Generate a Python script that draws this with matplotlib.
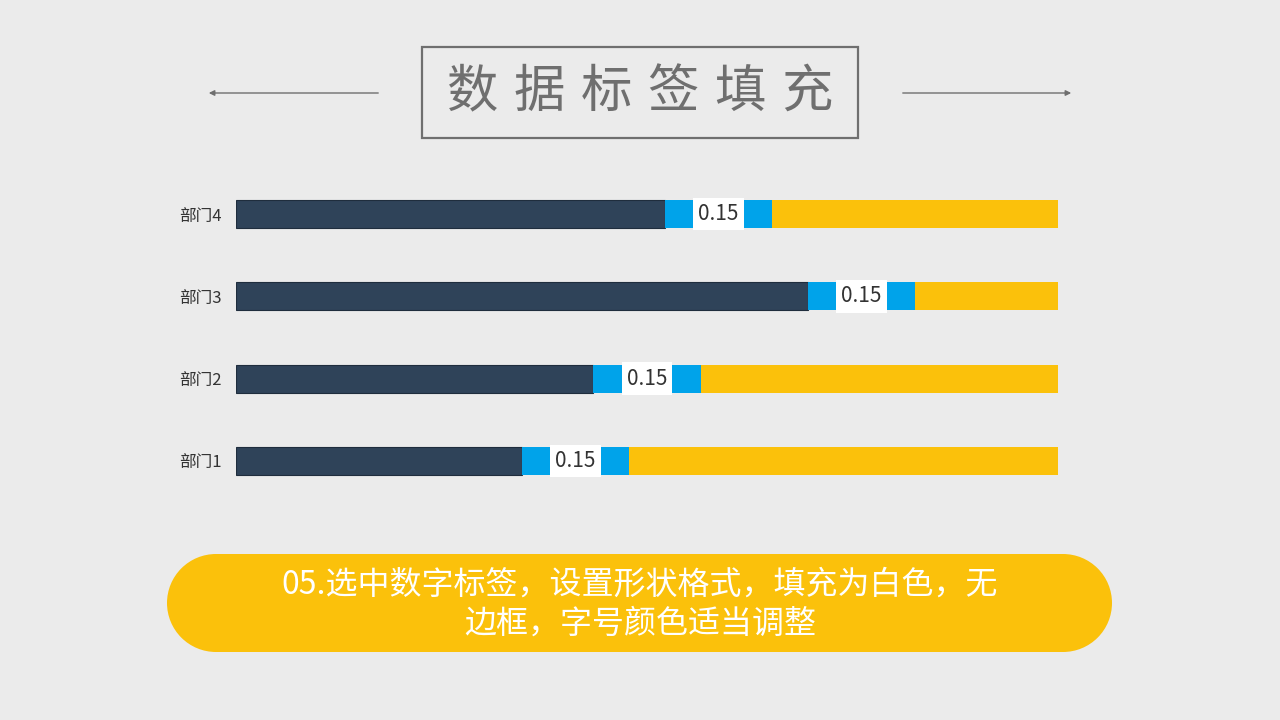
import matplotlib
matplotlib.use('Agg')
import matplotlib.pyplot as plt
from matplotlib.patches import Circle, Rectangle

plt.rcParams['font.family'] = ['Noto Sans CJK SC', 'DejaVu Sans']

categories = ['部门1', '部门2', '部门3', '部门4']
base_values = [0.40, 0.50, 0.80, 0.60]
label_values = [0.15, 0.15, 0.15, 0.15]
rest_values = [0.60, 0.50, 0.20, 0.40]

title = '数据标签填充'
note_lines = ['05.选中数字标签，设置形状格式，填充为白色，无', '边框，字号颜色适当调整']

bg = '#ebebeb'
navy = '#2f4359'
blue = '#00a3ea'
yellow = '#fbc10b'
grey = '#6f6f6f'

fig = plt.figure(figsize=(12.8, 7.2), dpi=100)
fig.patch.set_facecolor(bg)

# decoration layer in pixel coords
deco = fig.add_axes([0, 0, 1, 1])
deco.set_xlim(0, 1280)
deco.set_ylim(720, 0)
deco.axis('off')

deco.add_patch(Rectangle((422, 47), 436, 91, fill=False, ec=grey, lw=1.6))
for i, ch in enumerate(title):
    deco.text(472 + i * 67, 92, ch, fontsize=37, color=grey,
              ha='center', va='center')
deco.annotate('', xy=(206, 93), xytext=(381, 93),
              arrowprops=dict(arrowstyle='-|>', color=grey, lw=1,
                              mutation_scale=8))
deco.annotate('', xy=(1074, 93), xytext=(900, 93),
              arrowprops=dict(arrowstyle='-|>', color=grey, lw=1,
                              mutation_scale=8))

# pill shaped note box
r = 49
deco.add_patch(Rectangle((167 + r, 554), 945 - 2 * r, 2 * r, fc=yellow, ec='none'))
deco.add_patch(Circle((167 + r, 554 + r), r, fc=yellow, ec='none'))
deco.add_patch(Circle((1112 - r, 554 + r), r, fc=yellow, ec='none'))
deco.text(640, 585, note_lines[0], fontsize=23, color='white',
          ha='center', va='center')
deco.text(640, 624, note_lines[1], fontsize=23, color='white',
          ha='center', va='center')

# chart
ax = fig.add_axes([236 / 1280, 1 - 502 / 720, 822 / 1280, 329 / 720])
ax.patch.set_alpha(0)
y = range(len(categories))
h = 0.34
ax.barh(y, base_values, height=h, color=navy, edgecolor='#1f2d3d', lw=0.8)
lbl = ax.barh(y, label_values, left=base_values, height=h, color=blue)
left2 = [a + b for a, b in zip(base_values, label_values)]
ax.barh(y, rest_values, left=left2, height=h, color=yellow)
ax.bar_label(lbl, labels=[f'{v:.2f}' for v in label_values], label_type='center',
             fontsize=15, color='#333333',
             bbox=dict(fc='white', ec='none', boxstyle='square,pad=0.25'))

ax.set_xlim(0, 1.15)
ax.set_ylim(-0.5, 3.5)
ax.set_yticks(list(y))
ax.set_yticklabels(categories, fontsize=12, color='#333333')
ax.tick_params(axis='y', length=0, pad=10)
ax.set_xticks([])
for s in ax.spines.values():
    s.set_visible(False)

fig.savefig('out.png', dpi=100, facecolor=bg)
